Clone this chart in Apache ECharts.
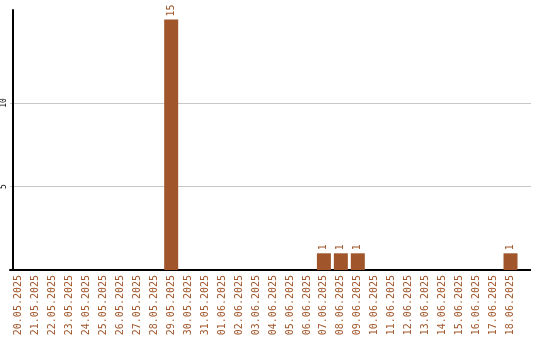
<!DOCTYPE html>
<html><head><meta charset="utf-8">
<script src="https://cdn.jsdelivr.net/npm/echarts@6/dist/echarts.min.js"></script>
<style>html,body{margin:0;padding:0;background:#fff}#c{width:540px;height:340px}</style>
</head><body><div id="c"></div>
<script>
const categories = ['20.05.2025','21.05.2025','22.05.2025','23.05.2025','24.05.2025','25.05.2025','26.05.2025','27.05.2025','28.05.2025','29.05.2025','30.05.2025','31.05.2025','01.06.2025','02.06.2025','03.06.2025','04.06.2025','05.06.2025','06.06.2025','07.06.2025','08.06.2025','09.06.2025','10.06.2025','11.06.2025','12.06.2025','13.06.2025','14.06.2025','15.06.2025','16.06.2025','17.06.2025','18.06.2025'];
const values = [0,0,0,0,0,0,0,0,0,15,0,0,0,0,0,0,0,0,1,1,1,0,0,0,0,0,0,0,0,1];
const yTickLabels = [5,10];
const FONT = 'DejaVu Sans Mono';
const COLOR = '#a0562a';
const chart = echarts.init(document.getElementById('c'), null, {renderer:'canvas'});
chart.setOption({
  animation:false,
  grid:{left:8,right:21,top:10,bottom:70,containLabel:false},
  xAxis:{type:'category',data:categories,
    axisLine:{lineStyle:{color:'#000',width:2}},
    axisTick:{show:false},
    axisLabel:{rotate:90,color:COLOR,fontFamily:FONT,fontSize:10,interval:0,margin:5}},
  yAxis:{type:'value',min:0,max:15.57,interval:5,offset:-3,
    axisLine:{show:true,lineStyle:{color:'#000',width:2}},
    axisTick:{show:false},
    splitLine:{show:true,lineStyle:{color:['transparent','#c8c8c8','#c8c8c8','transparent','transparent'],width:1}},
    axisLabel:{rotate:90,color:'#000',fontFamily:FONT,fontSize:8,margin:5,
      formatter:v=>yTickLabels.includes(v)?String(v):''}},
  series:[{type:'bar',data:values,barWidth:14,itemStyle:{color:COLOR},
    label:{show:true,position:'top',rotate:90,align:'left',verticalAlign:'middle',distance:3,color:COLOR,fontFamily:FONT,fontSize:10,
      formatter:p=>p.value?String(p.value):''}}]
});
// extend axis line and gridlines to the right edge like the reference
function sub(pos, lw){ const d = Math.round(pos*2); return (d + Math.round(lw)) % 2 === 0 ? d/2 : (d + 1)/2; }
const xEnd = chart.convertToPixel({xAxisIndex:0}, categories.length-1) + 8;
const y0 = chart.convertToPixel({yAxisIndex:0}, 0);
const gfx = [{type:'line',z:0,shape:{x1:xEnd,y1:sub(y0,2),x2:531,y2:sub(y0,2)},style:{stroke:'#000',lineWidth:2}}];
yTickLabels.forEach(v=>{
  const y = sub(chart.convertToPixel({yAxisIndex:0}, v), 1);
  gfx.push({type:'line',z:-1,shape:{x1:xEnd,y1:y,x2:531,y2:y},style:{stroke:'#c8c8c8',lineWidth:1}});
});
chart.setOption({graphic:gfx});
</script></body></html>
